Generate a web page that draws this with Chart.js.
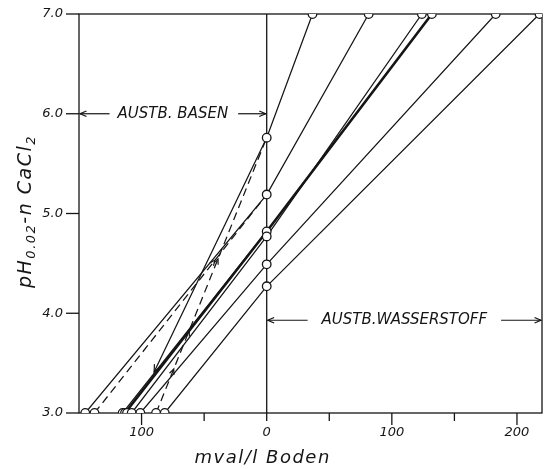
<!doctype html>
<html lang="de">
<head>
<meta charset="utf-8" />
<script src="https://cdn.jsdelivr.net/npm/chart.js@4.4.4/dist/chart.umd.min.js"></script>
<style>
  html, body { margin: 0; padding: 0; background: #fff; }
</style>
</head>
<body>
<canvas id="chart" width="552" height="469"></canvas>
<script>
// values: x = mval/l Boden (bases negative), y = pH
const bottomCircles = [-145, -137.6, -115.1, -113.2, -111.6, -107.9, -101, -88.4, -81.5]; // x at pH 3.0
const zeroCircles = [5.76, 5.19, 4.82, 4.77, 4.49, 4.27]; // pH at x = 0
const topCircles = [36.6, 81.5, 124, 132, 183, 218]; // x at pH 7.0

const line1 = [[-81.5, 3], [0, 4.27], [218, 7]];
const line2 = [[-101, 3], [0, 4.49], [183, 7]];
const line3 = [[-107.9, 3], [0, 4.77], [124, 7]];
const line4 = [[-113.2, 3], [0, 4.82], [132, 7]]; // heavy line
const line5 = [[-115.1, 3], [0, 4.82]];
const line6 = [[-145, 3], [0, 5.19], [81.5, 7]];
const line7 = [[36.6, 7], [0, 5.76], [-90, 3.41]]; // ends in an arrow
const dashed1 = [[-137.6, 3], [0, 5.19]];
const dashed2 = [[-88.4, 3], [0, 5.76]];

const xTicksMajor = [-100, 0, 100, 200];
const yTickLabels = [3, 4, 5, 6, 7];
const basenLevel = 6.0;
const wasserstoffLevel = 3.93;

const INK = "#151515";
const FONT = "'DejaVu Sans', sans-serif";

const toPts = (arr) => arr.map(([x, y]) => ({ x, y }));

function lineSet(arr, extra) {
  return Object.assign({
    data: toPts(arr),
    showLine: true,
    borderColor: INK,
    borderWidth: 1.25,
    pointRadius: 0,
    fill: false,
    order: 1,
  }, extra || {});
}

function circleSet(points) {
  return {
    data: points,
    showLine: false,
    pointRadius: 4.3,
    pointBackgroundColor: "#fff",
    pointBorderColor: INK,
    pointBorderWidth: 1.3,
    order: 0,
  };
}

const datasets = [
  circleSet(bottomCircles.map((x) => ({ x, y: 3 }))),
  circleSet(zeroCircles.map((y) => ({ x: 0, y }))),
  circleSet(topCircles.map((x) => ({ x, y: 7 }))),
  lineSet(line1),
  lineSet(line2),
  lineSet(line3),
  lineSet(line4, { borderWidth: 2.6 }),
  lineSet(line5),
  lineSet(line6),
  lineSet(line7, { arrowEnd: true }),
  lineSet(dashed1, { borderDash: [8, 5], arrows: [0.7] }),
  lineSet(dashed2, { borderDash: [8, 5], arrows: [0.16, 0.3, 0.56] }),
];

function head(ctx, x, y, ang, size) {
  ctx.beginPath();
  ctx.moveTo(x - size * Math.cos(ang - 0.4), y - size * Math.sin(ang - 0.4));
  ctx.lineTo(x, y);
  ctx.lineTo(x - size * Math.cos(ang + 0.4), y - size * Math.sin(ang + 0.4));
  ctx.stroke();
}

function hArrow(ctx, x1, x2, y, headAtEnd) {
  ctx.beginPath();
  ctx.moveTo(x1, y);
  ctx.lineTo(x2, y);
  ctx.stroke();
  if (headAtEnd) head(ctx, x2, y, 0, 7);
  else head(ctx, x1, y, Math.PI, 7);
}

// frame, zero line, tick marks, annotations, axis titles
const decor = {
  id: "decor",
  beforeDatasetsDraw(chart) {
    const { ctx, chartArea: a, scales } = chart;
    const x0 = scales.x.getPixelForValue(0);
    ctx.save();
    ctx.strokeStyle = INK;
    ctx.lineWidth = 1.3;
    ctx.strokeRect(a.left, a.top, a.right - a.left, a.bottom - a.top);
    ctx.beginPath();
    ctx.moveTo(x0, a.top);
    ctx.lineTo(x0, a.bottom + 8);
    ctx.stroke();
    // x ticks below the axis
    scales.x.ticks.forEach((t) => {
      if (t.value <= -150 || t.value >= 220 || t.value === 0) return;
      const len = xTicksMajor.includes(t.value) ? 12 : 8;
      const px = scales.x.getPixelForValue(t.value);
      ctx.beginPath();
      ctx.moveTo(px, a.bottom);
      ctx.lineTo(px, a.bottom + len);
      ctx.stroke();
    });
    // y ticks to the left
    yTickLabels.forEach((v) => {
      const py = scales.y.getPixelForValue(v);
      ctx.beginPath();
      ctx.moveTo(a.left - 13, py);
      ctx.lineTo(a.left, py);
      ctx.stroke();
    });

    // annotations
    ctx.lineWidth = 1.2;
    ctx.fillStyle = INK;
    ctx.font = "italic 15px " + FONT;
    ctx.textAlign = "center";
    ctx.textBaseline = "middle";
    let y = scales.y.getPixelForValue(basenLevel);
    let cx = (a.left + x0) / 2;
    let w = ctx.measureText("AUSTB. BASEN").width;
    ctx.fillText("AUSTB. BASEN", cx, y);
    hArrow(ctx, a.left + 1, cx - w / 2 - 8, y, false);
    hArrow(ctx, cx + w / 2 + 10, x0 - 1, y, true);

    y = scales.y.getPixelForValue(wasserstoffLevel);
    cx = (x0 + a.right) / 2;
    w = ctx.measureText("AUSTB.WASSERSTOFF").width;
    ctx.fillText("AUSTB.WASSERSTOFF", cx, y);
    hArrow(ctx, x0 + 1, cx - w / 2 - 14, y, false);
    hArrow(ctx, cx + w / 2 + 14, a.right - 1, y, true);

    // x title
    ctx.font = "italic 18px " + FONT;
    ctx.letterSpacing = "1.5px";
    ctx.textBaseline = "alphabetic";
    ctx.fillText("mval/l Boden", x0 - 4, 463);

    // y title with subscripts
    ctx.letterSpacing = "1.5px";
    const parts = [
      ["pH", 19, 0],
      ["0.02", 13, 4],
      ["-n CaCl", 19, 0],
      ["2", 13, 4],
    ];
    let total = 0;
    parts.forEach((p) => {
      ctx.font = "italic " + p[1] + "px " + FONT;
      total += ctx.measureText(p[0]).width;
    });
    ctx.translate(31, (a.top + a.bottom) / 2 - 2);
    ctx.rotate(-Math.PI / 2);
    ctx.textAlign = "left";
    let pos = -total / 2;
    parts.forEach((p) => {
      ctx.font = "italic " + p[1] + "px " + FONT;
      ctx.fillText(p[0], pos, p[2]);
      pos += ctx.measureText(p[0]).width;
    });
    ctx.restore();
  },
  afterDatasetsDraw(chart) {
    const { ctx } = chart;
    ctx.save();
    ctx.strokeStyle = INK;
    ctx.lineWidth = 1.2;
    chart.data.datasets.forEach((ds, i) => {
      const pts = chart.getDatasetMeta(i).data;
      if (ds.arrows) {
        const p0 = pts[0], p1 = pts[pts.length - 1];
        const ang = Math.atan2(p1.y - p0.y, p1.x - p0.x);
        ds.arrows.forEach((f) => {
          head(ctx, p0.x + f * (p1.x - p0.x), p0.y + f * (p1.y - p0.y), ang, 6);
        });
      }
      if (ds.arrowEnd) {
        const p0 = pts[pts.length - 2], p1 = pts[pts.length - 1];
        head(ctx, p1.x, p1.y, Math.atan2(p1.y - p0.y, p1.x - p0.x), 8);
      }
    });
    ctx.restore();
  },
};

new Chart(document.getElementById("chart"), {
  type: "scatter",
  data: { datasets },
  plugins: [decor],
  options: {
    responsive: false,
    animation: false,
    devicePixelRatio: 1,
    layout: { padding: { top: 14, right: 10, left: 0, bottom: 0 } },
    plugins: { legend: { display: false }, tooltip: { enabled: false } },
    scales: {
      x: {
        type: "linear",
        min: -150,
        max: 220,
        grid: { display: false, drawTicks: false },
        border: { display: false },
        afterFit: (s) => { s.height = 56; s.paddingLeft = 0; s.paddingRight = 0; },
        ticks: {
          stepSize: 50,
          includeBounds: false,
          autoSkip: false,
          maxRotation: 0,
          padding: 12,
          color: INK,
          font: { family: FONT, style: "italic", size: 13 },
          callback: (v) => (xTicksMajor.includes(v) ? String(Math.abs(v)) : ""),
        },
      },
      y: {
        type: "linear",
        min: 3,
        max: 7,
        grid: { display: false, drawTicks: false },
        border: { display: false },
        afterFit: (s) => { s.width = 79; s.paddingTop = 0; s.paddingBottom = 0; },
        ticks: {
          stepSize: 1,
          padding: 16,
          color: INK,
          font: { family: FONT, style: "italic", size: 13 },
          callback: (v) => (yTickLabels.includes(v) ? v.toFixed(1) : ""),
        },
      },
    },
  },
});
</script>
</body>
</html>
